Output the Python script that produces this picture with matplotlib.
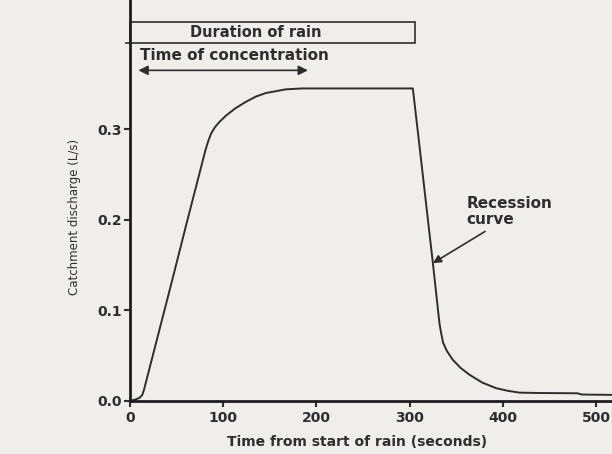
import numpy as np
import matplotlib.pyplot as plt
from matplotlib.patches import Rectangle

plt.rcParams['font.family'] = ['DejaVu Sans']

# hydrograph
time_s = [0, 5, 10, 13, 15, 17, 30, 45, 60, 72, 81, 84, 87, 91, 96, 103, 113, 124, 135,
          146, 157, 167, 185, 250, 303.5,
          310, 318, 325, 332, 334, 336, 340, 346.5, 355, 364.4, 378, 393, 405, 418,
          440, 480, 485, 530]
discharge = [0.0, 0.001, 0.003, 0.006, 0.012, 0.02, 0.072, 0.132, 0.193, 0.241, 0.277,
             0.287, 0.295, 0.302, 0.308, 0.315, 0.323, 0.330, 0.336,
             0.340, 0.342, 0.344, 0.345, 0.345, 0.345,
             0.287, 0.215, 0.152, 0.086, 0.074, 0.064, 0.055, 0.045, 0.036, 0.0286,
             0.020, 0.0138, 0.011, 0.0089, 0.0085, 0.0082, 0.0068, 0.0063]

rain_end = 306
tc_start, tc_end = 9, 191
xticks = [0, 100, 200, 300, 400, 500]
yticks = [0.0, 0.1, 0.2, 0.3]

bg = '#f0eeeb'
ink = '#2e2e2e'
fig = plt.figure(figsize=(6.12, 4.54), dpi=100, facecolor=bg)
ax = fig.add_axes([130 / 612, 53.3 / 454, 484.6 / 612, 407.3 / 454])
ax.set_facecolor(bg)

ax.plot(time_s, discharge, color=ink, linewidth=1.4)

ax.set_xlim(0, 520)
ax.set_ylim(0, 0.45)
ax.set_xticks(xticks)
ax.set_yticks(yticks)
ax.set_yticklabels(['%.1f' % v for v in yticks])

for side in ['top', 'right']:
    ax.spines[side].set_visible(False)
for side in ['left', 'bottom']:
    ax.spines[side].set_linewidth(2)
    ax.spines[side].set_color('#1e1e1e')

ax.tick_params(axis='both', direction='out', length=4.5, width=1.5,
               labelsize=10, colors=ink)
ax.tick_params(axis='y', pad=1)
ax.tick_params(axis='x', pad=3)
for lab in ax.get_xticklabels() + ax.get_yticklabels():
    lab.set_fontweight('bold')

ax.set_xlabel('Time from start of rain (seconds)', fontsize=10, color=ink,
              fontweight='bold')
ax.xaxis.set_label_coords(0.468, -0.083)
ax.set_ylabel('Catchment discharge (L/s)', fontsize=8.5, color=ink)
ax.yaxis.set_label_coords(-0.101, 0.452)

# duration of rain box
ax.add_patch(Rectangle((0, 0.395), rain_end, 0.023, fill=False, edgecolor=ink,
                       linewidth=1.2, clip_on=False))
ax.plot([-4, 0], [0.395, 0.395], color=ink, linewidth=1.2, clip_on=False)
ax.text(135, 0.4065, 'Duration of rain', ha='center', va='center', fontsize=10.5,
        color=ink, fontweight='bold')

# time of concentration
ax.text(11, 0.381, 'Time of concentration', ha='left', va='center', fontsize=11,
        color=ink, fontweight='bold')
ax.annotate('', xy=(tc_start, 0.365), xytext=(tc_end, 0.365),
            arrowprops=dict(arrowstyle='<|-|>', color=ink, lw=1.2,
                            mutation_scale=14, shrinkA=0, shrinkB=0))

# recession curve
ax.text(361, 0.209, 'Recession\ncurve', ha='left', va='center', fontsize=11,
        color=ink, fontweight='bold', linespacing=1.05)
ax.annotate('', xy=(325, 0.152), xytext=(381, 0.187),
            arrowprops=dict(arrowstyle='-|>', color=ink, lw=1.2,
                            mutation_scale=12, shrinkA=0, shrinkB=0))

fig.savefig('out.png', dpi=100, facecolor=bg)
